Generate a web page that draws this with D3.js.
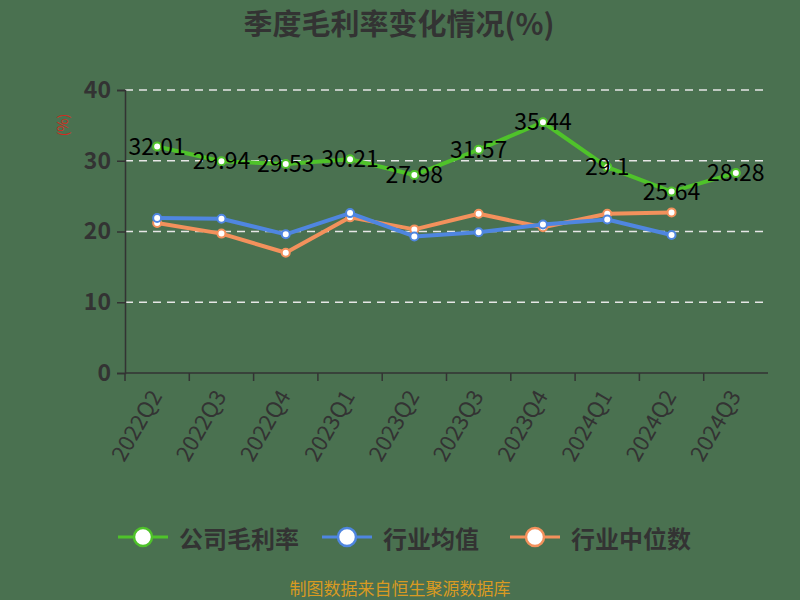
<!DOCTYPE html>
<html>
<head>
<meta charset="utf-8">
<script src="https://cdn.jsdelivr.net/npm/d3@7"></script>
<style>
  body { margin: 0; background: #4a7150; }
  text { font-family: "Noto Sans CJK SC", "Noto Sans", sans-serif; }
</style>
</head>
<body>
<div id="chart"></div>
<script>
// quarters and the three series
var quarters = ["2022Q2", "2022Q3", "2022Q4", "2023Q1", "2023Q2", "2023Q3", "2023Q4", "2024Q1", "2024Q2", "2024Q3"];
var companyMargin = [32.01, 29.94, 29.53, 30.21, 27.98, 31.57, 35.44, 29.1, 25.64, 28.28];
var industryMean = [21.9, 21.8, 19.6, 22.6, 19.3, 19.9, 21.0, 21.7, 19.5, null];
var industryMedian = [21.2, 19.7, 17.0, 22.0, 20.3, 22.5, 20.6, 22.5, 22.7, null];
var yTicks = [0, 10, 20, 30, 40];

var series = [
    { name: "公司毛利率", values: companyMargin, color: "#4fc32a", labels: true },
    { name: "行业均值", values: industryMean, color: "#4f86e0", labels: false },
    { name: "行业中位数", values: industryMedian, color: "#f3915c", labels: false }
];

var width = 800, height = 600;
var margin = { top: 90, right: 32, bottom: 227, left: 125 };

var svg = d3.select("#chart").append("svg")
    .attr("width", width)
    .attr("height", height);

svg.append("rect").attr("width", width).attr("height", height).attr("fill", "#4a7150");

var x = d3.scaleBand()
    .domain(quarters)
    .range([margin.left, width - margin.right]);

var y = d3.scaleLinear()
    .domain([0, 40])
    .range([height - margin.bottom, margin.top]);

// title
svg.append("text")
    .attr("x", 399).attr("y", 22)
    .attr("text-anchor", "middle")
    .attr("dominant-baseline", "central")
    .style("font-size", "29px").style("font-weight", "bold")
    .style("fill", "#333")
    .text("季度毛利率变化情况(%)");

// unit label
svg.append("text")
    .attr("transform", "translate(62,125) rotate(-90)")
    .attr("text-anchor", "middle")
    .attr("dominant-baseline", "central")
    .style("font-size", "14px")
    .style("fill", "#d42a1e")
    .text("(%)");

// grid
svg.selectAll(".grid")
    .data(yTicks.filter(function (d) { return d > 0; }))
    .enter().append("line")
    .attr("x1", margin.left).attr("x2", width - margin.right)
    .attr("y1", function (d) { return y(d); })
    .attr("y2", function (d) { return y(d); })
    .attr("stroke", "#e6e6e6")
    .attr("stroke-width", 1.5)
    .attr("stroke-dasharray", "8,6");

// y axis
var yAxis = svg.append("g")
    .attr("transform", "translate(" + margin.left + ",0)")
    .call(d3.axisLeft(y).tickValues(yTicks).tickSize(8).tickPadding(6));
yAxis.selectAll("text").style("font-size", "23px").style("font-weight", "bold").style("fill", "#333");
yAxis.selectAll("line, path").attr("stroke", "#333").attr("stroke-width", 1.5);

// x axis, ticks on band edges
var xAxis = svg.append("g")
    .attr("transform", "translate(0," + y(0) + ")");
xAxis.append("line")
    .attr("x1", margin.left).attr("x2", width - margin.right)
    .attr("stroke", "#333").attr("stroke-width", 1.5);
xAxis.selectAll(".tk")
    .data(quarters)
    .enter().append("line")
    .attr("x1", function (d) { return x(d); })
    .attr("x2", function (d) { return x(d); })
    .attr("y1", 0).attr("y2", 8)
    .attr("stroke", "#333").attr("stroke-width", 1.5);
xAxis.selectAll(".lbl")
    .data(quarters)
    .enter().append("text")
    .attr("transform", function (d) {
        return "translate(" + (x(d) + x.bandwidth() / 2 - 3) + ",18) rotate(-60)";
    })
    .attr("text-anchor", "end")
    .attr("dominant-baseline", "central")
    .style("font-size", "22px")
    .style("fill", "#333")
    .text(function (d) { return d; });

var line = d3.line()
    .defined(function (d) { return d != null; })
    .x(function (d, i) { return x(quarters[i]) + x.bandwidth() / 2; })
    .y(function (d) { return y(d); });

// draw lines back-to-front so the company line sits on top
series.slice().reverse().forEach(function (s) {
    var g = svg.append("g");
    g.append("path")
        .datum(s.values)
        .attr("d", line)
        .attr("fill", "none")
        .attr("stroke", s.color)
        .attr("stroke-width", 4)
        .attr("stroke-linejoin", "round");
    g.selectAll("circle")
        .data(s.values.map(function (v, i) { return { v: v, q: quarters[i] }; })
            .filter(function (d) { return d.v != null; }))
        .enter().append("circle")
        .attr("cx", function (d) { return x(d.q) + x.bandwidth() / 2; })
        .attr("cy", function (d) { return y(d.v); })
        .attr("r", 4)
        .attr("fill", "#fff")
        .attr("stroke", s.color)
        .attr("stroke-width", 2);
    if (s.labels) {
        g.selectAll(".lab")
            .data(s.values.map(function (v, i) { return { v: v, q: quarters[i] }; }))
            .enter().append("text")
            .attr("x", function (d) { return x(d.q) + x.bandwidth() / 2; })
            .attr("y", function (d) { return y(d.v) - 2; })
            .attr("text-anchor", "middle")
            .attr("dominant-baseline", "central")
            .style("font-size", "23px")
            .style("fill", "#000")
            .text(function (d) { return d.v; });
    }
});

// legend
var legendX = [118, 322, 510];
var legend = svg.selectAll(".legend")
    .data(series)
    .enter().append("g")
    .attr("transform", function (d, i) { return "translate(" + legendX[i] + ",537)"; });
legend.append("line")
    .attr("x1", 0).attr("x2", 50)
    .attr("stroke", function (d) { return d.color; })
    .attr("stroke-width", 3);
legend.append("circle")
    .attr("cx", 25).attr("r", 9)
    .attr("fill", "#fff")
    .attr("stroke", function (d) { return d.color; })
    .attr("stroke-width", 2.5);
legend.append("text")
    .attr("x", 61)
    .attr("dominant-baseline", "central")
    .style("font-size", "24px")
    .style("font-weight", "bold")
    .style("fill", "#333")
    .text(function (d) { return d.name; });

// source
svg.append("text")
    .attr("x", 400).attr("y", 587)
    .attr("text-anchor", "middle")
    .attr("dominant-baseline", "central")
    .style("font-size", "17px")
    .style("fill", "#d99a22")
    .text("制图数据来自恒生聚源数据库");
</script>
</body>
</html>
